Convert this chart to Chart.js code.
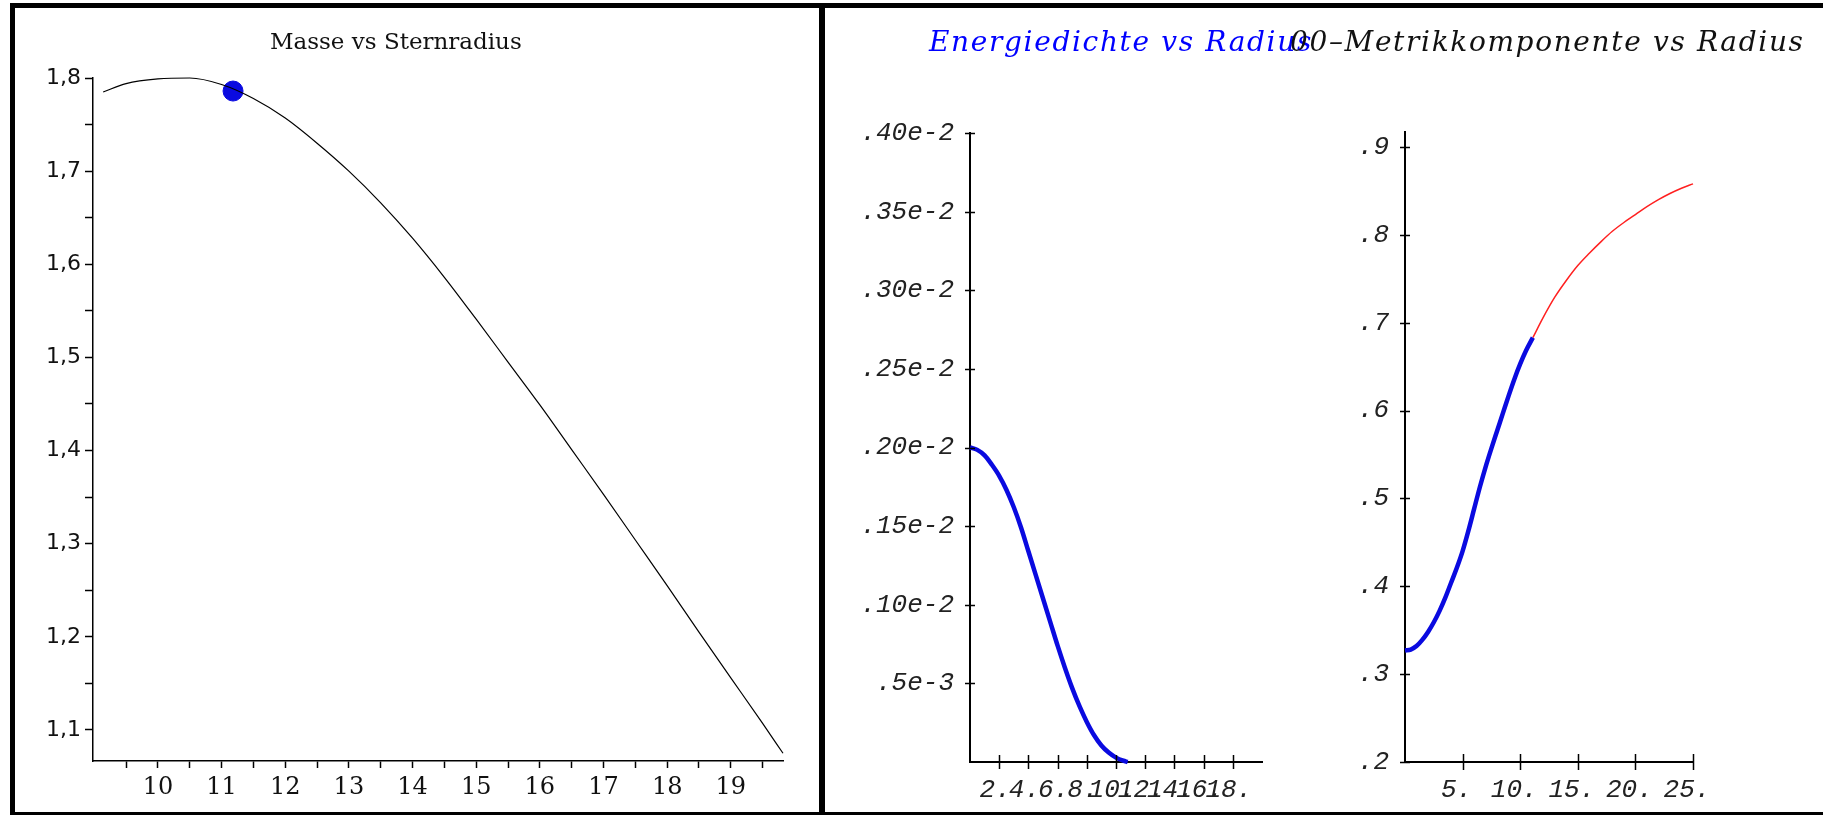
<!DOCTYPE html>
<html lang="de">
<head>
<meta charset="utf-8">
<title>Sternmodell</title>
<script src="https://cdn.jsdelivr.net/npm/chart.js@4.4.1/dist/chart.umd.min.js"></script>
<style>
  html, body { margin: 0; padding: 0; background: #fff; }
  body { position: relative; width: 1823px; height: 815px; overflow: hidden; }
  .box { position: absolute; top: 0; height: 812px; }
  .frame { position: absolute; background: #000; z-index: 5; }
  .title { position: absolute; white-space: nowrap; line-height: 1; z-index: 4; }
  #t1 { left: 270px; top: 28px; font: 23px 'DejaVu Serif'; color: #111; }
  #t2 { left: 929px; top: 25px; font: italic 28px 'DejaVu Serif'; letter-spacing: 1.65px; color: #0000ff; }
  #t3 { left: 1290px; top: 25px; font: italic 28px 'DejaVu Serif'; letter-spacing: 1.65px; color: #111; }
</style>
</head>
<body>
<div class="box" style="left:15px; width:804px;"><canvas id="massChart"></canvas></div>
<div class="box" style="left:825px; width:470px;"><canvas id="rhoChart"></canvas></div>
<div class="box" style="left:1295px; width:528px;"><canvas id="metricChart"></canvas></div>

<div class="title" id="t1">Masse vs Sternradius</div>
<div class="title" id="t2">Energiedichte vs Radius</div>
<div class="title" id="t3">00–Metrikkomponente vs Radius</div>

<div class="frame" style="left:10px; top:3px; width:1813px; height:5px;"></div>
<div class="frame" style="left:10px; top:3px; width:5px; height:812px;"></div>
<div class="frame" style="left:10px; top:812px; width:1813px; height:3px;"></div>
<div class="frame" style="left:819px; top:3px; width:6px; height:812px;"></div>

<script>
// Masse vs Sternradius
const massRadius = [9.14, 9.5, 10.0, 10.5, 11.0, 11.5, 12.0, 12.5, 13.0, 13.5, 14.0, 14.5, 15.0, 15.5, 16.0, 16.5, 17.0, 17.5, 18.0, 18.5, 19.0, 19.5, 19.82];
const massValues = [1.785, 1.794, 1.799, 1.800, 1.793, 1.778, 1.757, 1.730, 1.700, 1.666, 1.628, 1.586, 1.541, 1.495, 1.449, 1.401, 1.353, 1.304, 1.255, 1.205, 1.156, 1.107, 1.075];
const starRadius = [11.18];
const starMass = [1.786];

const massYTicks = [1.1, 1.15, 1.2, 1.25, 1.3, 1.35, 1.4, 1.45, 1.5, 1.55, 1.6, 1.65, 1.7, 1.75, 1.8];
const massYLabels = ['1,1', '', '1,2', '', '1,3', '', '1,4', '', '1,5', '', '1,6', '', '1,7', '', '1,8'];
const massXTicks = [9.5, 10, 10.5, 11, 11.5, 12, 12.5, 13, 13.5, 14, 14.5, 15, 15.5, 16, 16.5, 17, 17.5, 18, 18.5, 19, 19.5];
const massXLabels = ['', '10', '', '11', '', '12', '', '13', '', '14', '', '15', '', '16', '', '17', '', '18', '', '19', ''];

// Energiedichte vs Radius
const rhoRadius = [0, 0.5, 1, 1.5, 2, 2.5, 3, 3.5, 4, 4.5, 5, 5.5, 6, 6.5, 7, 7.5, 8, 8.5, 9, 9.5, 10, 10.5, 10.8];
const rhoValues = [0.00200, 0.001985, 0.00195, 0.00189, 0.00182, 0.00173, 0.00162, 0.00149, 0.00134, 0.00119, 0.00104, 0.00089, 0.00074, 0.00060, 0.00047, 0.000355, 0.000255, 0.00017, 0.000105, 0.00006, 0.000028, 0.000008, 0];

const rhoYTicks = [0.0005, 0.001, 0.0015, 0.002, 0.0025, 0.003, 0.0035, 0.004];
const rhoYLabels = ['.5e-3', '.10e-2', '.15e-2', '.20e-2', '.25e-2', '.30e-2', '.35e-2', '.40e-2'];
const rhoXTicks = [2, 4, 6, 8, 10, 12, 14, 16, 18];
const rhoXLabels = ['2.', '4.', '6.', '8.', '10.', '12.', '14.', '16.', '18.'];

// 00-Metrikkomponente vs Radius (innen / aussen)
const g00InnerRadius = [0, 0.5, 1, 1.5, 2, 2.5, 3, 3.5, 4, 4.5, 5, 5.5, 6, 6.5, 7, 7.5, 8, 8.5, 9, 9.5, 10, 10.5, 11.1];
const g00InnerValues = [0.327, 0.328, 0.332, 0.339, 0.348, 0.359, 0.372, 0.387, 0.404, 0.421, 0.440, 0.463, 0.488, 0.513, 0.536, 0.557, 0.577, 0.597, 0.617, 0.636, 0.653, 0.668, 0.683];
const g00OuterRadius = [11.1, 12, 13, 14, 15, 16, 17, 18, 19, 20, 21, 22, 23, 24, 25];
const g00OuterValues = [0.683, 0.706, 0.729, 0.748, 0.765, 0.779, 0.792, 0.804, 0.814, 0.823, 0.832, 0.840, 0.847, 0.853, 0.858];

const g00YTicks = [0.2, 0.3, 0.4, 0.5, 0.6, 0.7, 0.8, 0.9];
const g00YLabels = ['.2', '.3', '.4', '.5', '.6', '.7', '.8', '.9'];
const g00XTicks = [5, 10, 15, 20, 25];
const g00XLabels = ['5.', '10.', '15.', '20.', '25.'];

const BLUE = '#0a0ae0';

function points(xs, ys) {
    return xs.map((x, i) => ({ x: x, y: ys[i] }));
}

// Maple-artige Striche, die die Achse kreuzen
const crossTicks = {
    id: 'crossTicks',
    afterDraw(chart, args, opts) {
        const { ctx, chartArea } = chart;
        const xs = chart.scales.x;
        const ys = chart.scales.y;
        ctx.save();
        ctx.strokeStyle = '#000';
        ctx.lineWidth = 1.5;
        ctx.beginPath();
        xs.ticks.forEach(t => {
            const px = Math.round(xs.getPixelForValue(t.value)) + 0.5;
            ctx.moveTo(px, chartArea.bottom - opts.x);
            ctx.lineTo(px, chartArea.bottom + opts.x);
        });
        ys.ticks.forEach(t => {
            const py = Math.round(ys.getPixelForValue(t.value)) + 0.5;
            ctx.moveTo(chartArea.left - opts.y, py);
            ctx.lineTo(chartArea.left + opts.y, py);
        });
        ctx.stroke();
        ctx.restore();
    }
};

function fixed(values) {
    return scale => { scale.ticks = values.map(v => ({ value: v })); };
}

const monoFont = { family: 'Liberation Mono', size: 26, style: 'italic' };

// Linkes Diagramm
new Chart(document.getElementById('massChart'), {
    type: 'line',
    data: {
        datasets: [
            {
                data: points(massRadius, massValues),
                borderColor: '#000',
                borderWidth: 1.2,
                pointRadius: 0,
                cubicInterpolationMode: 'monotone',
                clip: false
            },
            {
                data: points(starRadius, starMass),
                showLine: false,
                pointRadius: 10,
                pointBackgroundColor: BLUE,
                pointBorderColor: BLUE,
                clip: false
            }
        ]
    },
    options: {
        responsive: true,
        maintainAspectRatio: false,
        animation: false,
        layout: { padding: { left: 0, right: 36, top: 78, bottom: 0 } },
        plugins: { legend: { display: false }, tooltip: { enabled: false } },
        scales: {
            x: {
                type: 'linear',
                min: 8.98,
                max: 19.82,
                afterBuildTicks: fixed(massXTicks),
                afterFit: s => { s.height = 51; },
                border: { color: '#000', width: 1.5 },
                grid: { drawOnChartArea: false, tickLength: 7, tickColor: '#000', tickWidth: 1.5 },
                ticks: {
                    autoSkip: false, maxRotation: 0, minRotation: 0, padding: 5,
                    color: '#111',
                    font: { family: 'DejaVu Serif', size: 24 },
                    callback: (v, i) => massXLabels[i]
                }
            },
            y: {
                min: 1.0667,
                max: 1.8,
                afterBuildTicks: fixed(massYTicks),
                afterFit: s => { s.width = 78; },
                border: { color: '#000', width: 1.5 },
                grid: { drawOnChartArea: false, tickLength: 8, tickColor: '#000', tickWidth: 1.5 },
                ticks: {
                    autoSkip: false, padding: 4,
                    color: '#111',
                    font: { family: 'DejaVu Sans', size: 22 },
                    callback: (v, i) => massYLabels[i]
                }
            }
        }
    }
});

// Energiedichte
new Chart(document.getElementById('rhoChart'), {
    type: 'line',
    data: {
        datasets: [{
            data: points(rhoRadius, rhoValues),
            borderColor: BLUE,
            borderWidth: 4.5,
            pointRadius: 0,
            cubicInterpolationMode: 'monotone',
            clip: false
        }]
    },
    plugins: [crossTicks],
    options: {
        responsive: true,
        maintainAspectRatio: false,
        animation: false,
        layout: { padding: { left: 0, right: 33, top: 133, bottom: 0 } },
        plugins: { legend: { display: false }, tooltip: { enabled: false }, crossTicks: { x: 7, y: 5 } },
        scales: {
            x: {
                type: 'linear',
                min: 0,
                max: 20,
                afterBuildTicks: fixed(rhoXTicks),
                afterFit: s => { s.height = 50; },
                border: { color: '#000', width: 2 },
                grid: { display: false, drawTicks: false },
                ticks: {
                    autoSkip: false, maxRotation: 0, minRotation: 0, padding: 13, labelOffset: -4,
                    color: '#222', font: monoFont,
                    callback: (v, i) => rhoXLabels[i]
                }
            },
            y: {
                min: 0,
                max: 0.004,
                afterBuildTicks: fixed(rhoYTicks),
                afterFit: s => { s.width = 145; },
                border: { color: '#000', width: 2 },
                grid: { display: false, drawTicks: false },
                ticks: {
                    autoSkip: false, padding: 16,
                    color: '#222', font: monoFont,
                    callback: (v, i) => rhoYLabels[i]
                }
            }
        }
    }
});

// 00-Metrikkomponente
new Chart(document.getElementById('metricChart'), {
    type: 'line',
    data: {
        datasets: [
            {
                data: points(g00InnerRadius, g00InnerValues),
                borderColor: BLUE,
                borderWidth: 4.5,
                pointRadius: 0,
                cubicInterpolationMode: 'monotone',
                clip: false
            },
            {
                data: points(g00OuterRadius, g00OuterValues),
                borderColor: '#ff2020',
                borderWidth: 1.5,
                pointRadius: 0,
                cubicInterpolationMode: 'monotone',
                clip: false
            }
        ]
    },
    plugins: [crossTicks],
    options: {
        responsive: true,
        maintainAspectRatio: false,
        animation: false,
        layout: { padding: { left: 0, right: 130, top: 132, bottom: 0 } },
        plugins: { legend: { display: false }, tooltip: { enabled: false }, crossTicks: { x: 8, y: 5 } },
        scales: {
            x: {
                type: 'linear',
                min: 0,
                max: 25,
                afterBuildTicks: fixed(g00XTicks),
                afterFit: s => { s.height = 50; },
                border: { color: '#000', width: 2 },
                grid: { display: false, drawTicks: false },
                ticks: {
                    autoSkip: false, maxRotation: 0, minRotation: 0, padding: 13, labelOffset: -6,
                    color: '#222', font: monoFont,
                    callback: (v, i) => g00XLabels[i]
                }
            },
            y: {
                min: 0.2,
                max: 0.917,
                afterBuildTicks: fixed(g00YTicks),
                afterFit: s => { s.width = 110; },
                border: { color: '#000', width: 2 },
                grid: { display: false, drawTicks: false },
                ticks: {
                    autoSkip: false, padding: 16,
                    color: '#222', font: monoFont,
                    callback: (v, i) => g00YLabels[i]
                }
            }
        }
    }
});
</script>
</body>
</html>
